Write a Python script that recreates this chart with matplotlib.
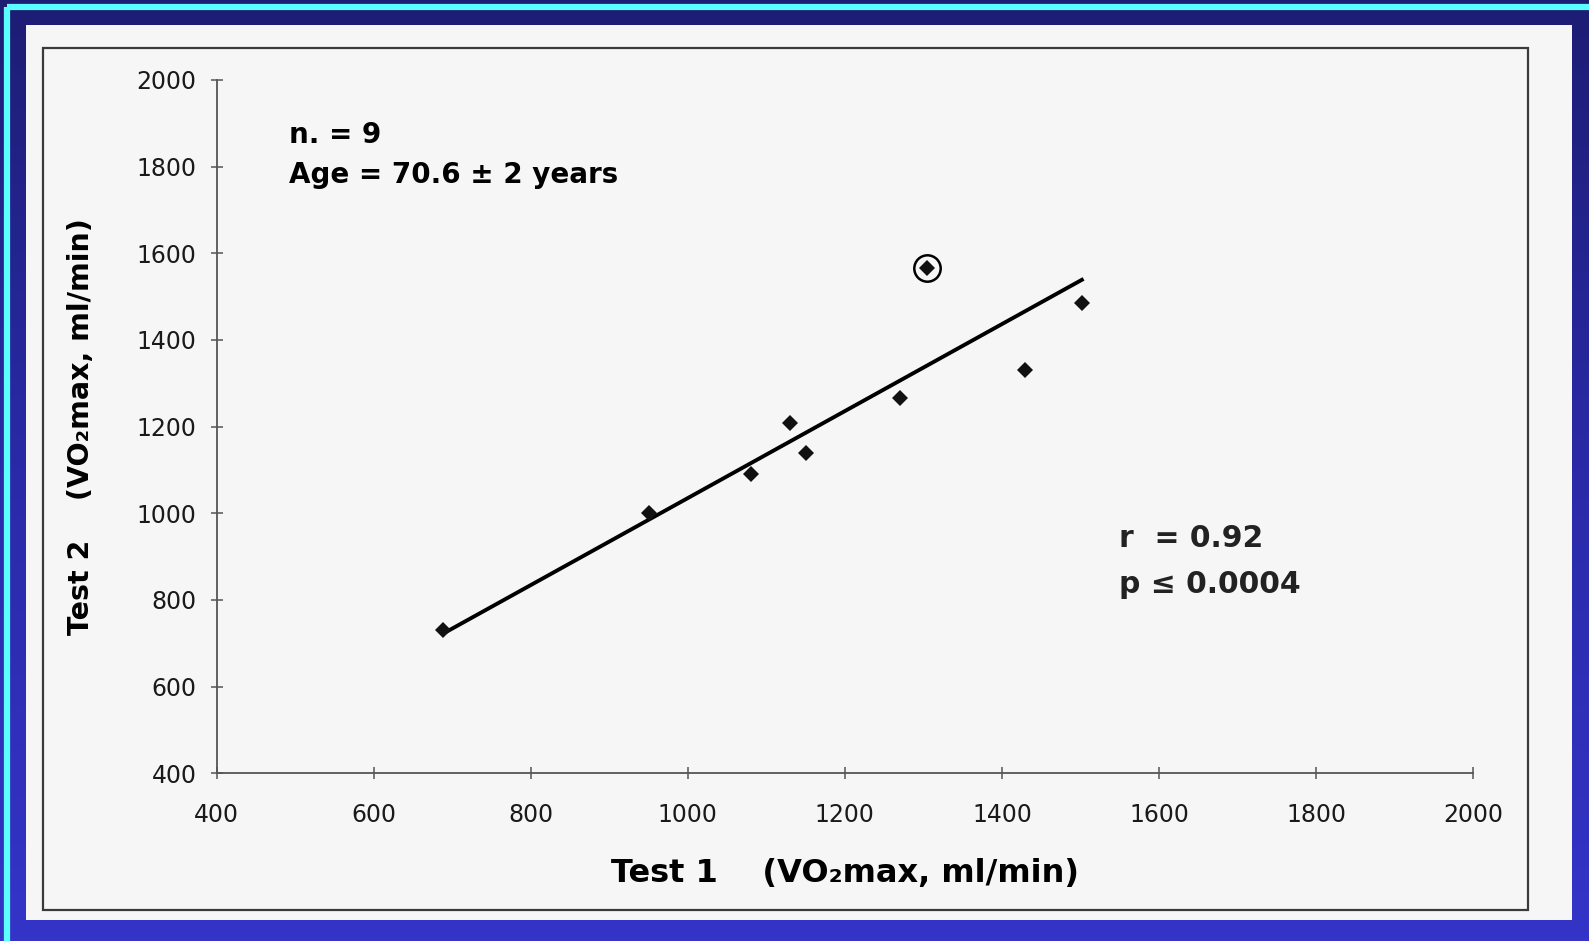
import numpy as np
import matplotlib.pyplot as plt
from matplotlib.patches import Rectangle
from matplotlib.colors import LinearSegmentedColormap

plt.rcParams['font.family'] = ['DejaVu Sans']

# VO2max measured in two separate tests (ml/min)
test1 = [688, 950, 1080, 1130, 1150, 1270, 1304, 1430, 1502]
test2 = [731, 1000, 1090, 1208, 1140, 1265, 1565, 1330, 1485]
outlier = 6

# regression line end points
fit_x = [687, 1504]
fit_y = [721, 1541]

ticks = [400, 600, 800, 1000, 1200, 1400, 1600, 1800, 2000]

W, H = 1589, 941
fig = plt.figure(figsize=(W / 100, H / 100), dpi=100)

# blue slide background
bg = fig.add_axes([0, 0, 1, 1])
bg.set_xlim(0, W)
bg.set_ylim(H, 0)
bg.axis('off')
cmap = LinearSegmentedColormap.from_list('slide', ['#1d1d74', '#2a2aa8', '#3434c8'])
grad = np.linspace(0, 1, 256).reshape(-1, 1)
bg.imshow(grad, cmap=cmap, extent=[0, W, H, 0], aspect='auto')
bg.add_patch(Rectangle((7, 7), W + 10, H - 4, fill=False, edgecolor='#5cffff', lw=4.5))
bg.add_patch(Rectangle((26, 25), 1546, 895, facecolor='#f6f6f6', edgecolor='none'))
bg.add_patch(Rectangle((43, 48), 1485, 862, fill=False, edgecolor='#3a3a3a', lw=1.6))

ax = fig.add_axes([216.7 / W, 1 - 773.3 / H, (1473 - 216.7) / W, (773.3 - 80) / H])
ax.patch.set_alpha(0)
ax.set_xlim(400, 2000)
ax.set_ylim(400, 2000)
for s in ['top', 'right']:
    ax.spines[s].set_visible(False)
for s in ['left', 'bottom']:
    ax.spines[s].set_color('#555555')
    ax.spines[s].set_linewidth(1.3)
ax.set_xticks(ticks)
ax.set_yticks(ticks)
ax.tick_params(direction='inout', length=9, width=1.1, color='#555555',
               labelsize=17, labelcolor='#1a1a1a')
ax.tick_params(axis='x', pad=17)
ax.tick_params(axis='y', pad=10)

ax.plot(fit_x, fit_y, color='black', lw=2.8, solid_capstyle='butt')
ax.plot(test1, test2, 'D', color='#111111', markersize=8.5, markeredgewidth=0)
ax.plot(test1[outlier], test2[outlier], 'o', markersize=19, markerfacecolor='none',
        markeredgecolor='black', markeredgewidth=1.8)

ax.set_xlabel('Test 1    (VO\u2082max, ml/min)', fontsize=23, fontweight='bold', labelpad=22)
ax.set_ylabel('Test 2    (VO\u2082max, ml/min)', fontsize=20.5, fontweight='bold', labelpad=30)

ax.text(492, 1873, 'n. = 9', fontsize=20, fontweight='bold', va='center')
ax.text(492, 1781, 'Age = 70.6 \u00b1 2 years', fontsize=20, fontweight='bold', va='center')
ax.text(1549, 943, 'r  = 0.92', fontsize=21.5, fontweight='bold', va='center', color='#222222')
ax.text(1549, 835, 'p \u2264 0.0004', fontsize=21.5, fontweight='bold', va='center', color='#222222')

fig.savefig('out.png', dpi=100)
